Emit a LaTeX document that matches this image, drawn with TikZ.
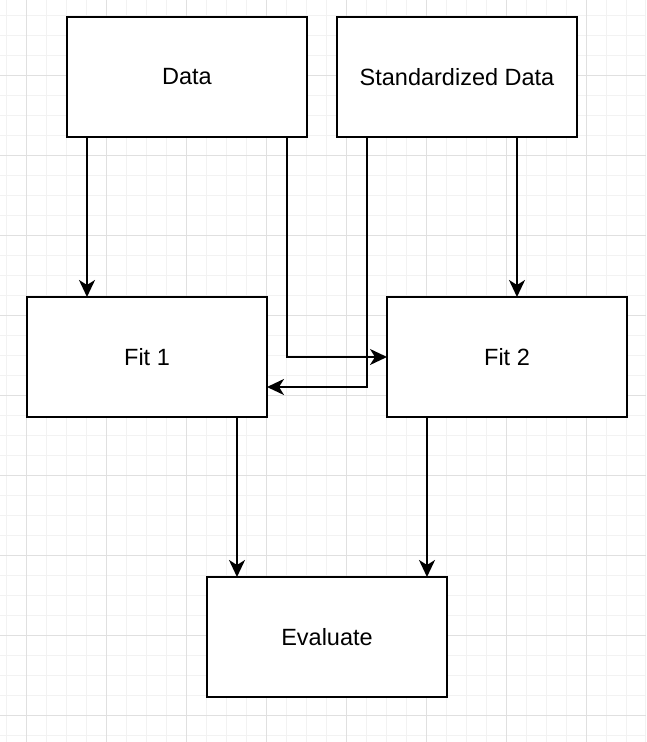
\documentclass[tikz,border=0pt]{standalone}
\usepackage{fontspec}
\setmainfont{Liberation Sans}
\usetikzlibrary{arrows.meta}
\definecolor{gridminor}{HTML}{F2F2F2}
\definecolor{gridmajor}{HTML}{E0E0E0}
\begin{document}
\begin{tikzpicture}[x=1pt,y=1pt,
  block/.style={draw=black, line width=2pt, fill=white, minimum width=240pt,
    minimum height=120pt, inner sep=0pt, outer sep=0pt,
    font=\fontsize{23.5}{28}\selectfont},
  flow/.style={draw=black, line width=2pt,
    -{Stealth[length=17pt,width=16pt,inset=5pt]}}]
\useasboundingbox (0,0) rectangle (646,742);
\fill[white] (0,0) rectangle (646,742);
% background grid
\begin{scope}[shift={(6,6)}]
  \draw[gridminor, line width=1pt, step=20] (-6,-6) grid (640,736);
\end{scope}
\begin{scope}[shift={(26,26)}]
  \draw[gridmajor, line width=1pt, step=80] (-26,-26) grid (620,716);
\end{scope}
% blocks
\node[block] (data) at (187,665) {Data};
\node[block] (std)  at (457,665) {Standardized Data};
\node[block] (fit1) at (147,385) {Fit 1};
\node[block] (fit2) at (507,385) {Fit 2};
\node[block] (eval) at (327,105) {Evaluate};
% connectors
\draw[flow] ([xshift=20pt]data.south west) -- ([xshift=20pt]data.south west |- fit1.north);
\draw[flow] ([xshift=-20pt]data.south east) |- (fit2.west);
\draw[flow] ([xshift=30pt]std.south west) |- ([yshift=-30pt]fit1.east);
\draw[flow] ([xshift=-60pt]std.south east) -- ([xshift=-60pt]std.south east |- fit2.north);
\draw[flow] ([xshift=-30pt]fit1.south east) -- ([xshift=-30pt]fit1.south east |- eval.north);
\draw[flow] ([xshift=40pt]fit2.south west) -- ([xshift=40pt]fit2.south west |- eval.north);
\end{tikzpicture}
\end{document}
